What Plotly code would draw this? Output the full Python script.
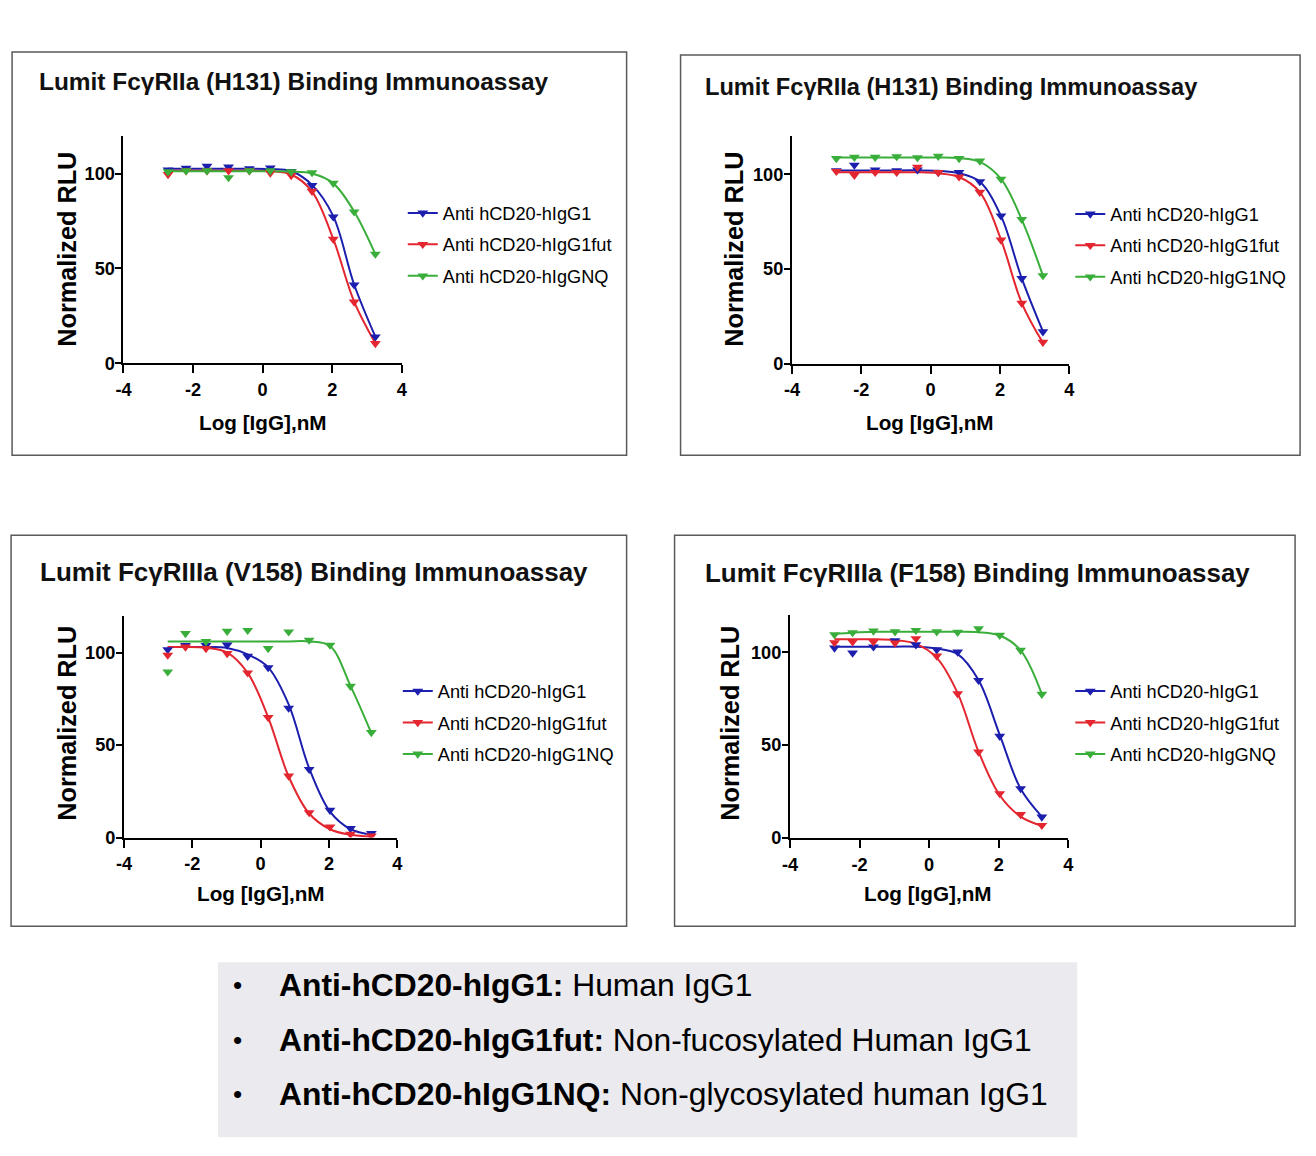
import plotly.graph_objects as go

# ---------------- data ----------------
log_igg = [-2.72, -2.2, -1.6, -0.98, -0.38, 0.22, 0.82, 1.42, 2.03, 2.63, 3.24]

series_names_a = ["Anti hCD20-hIgG1", "Anti hCD20-hIgG1fut", "Anti hCD20-hIgGNQ"]
series_names_b = ["Anti hCD20-hIgG1", "Anti hCD20-hIgG1fut", "Anti hCD20-hIgG1NQ"]

panel_titles = [
    "Lumit FcγRIIa (H131) Binding Immunoassay",
    "Lumit FcγRIIa (H131) Binding Immunoassay",
    "Lumit FcγRIIIa (V158) Binding Immunoassay",
    "Lumit FcγRIIIa (F158) Binding Immunoassay",
]

# Panel 1 : FcγRIIa (H131)
p1_igg1_obs = [101.9, 102.8, 103.9, 103.5, 102.6, 103.0, 101.1, 93.8, 77.2, 41.3, 13.9]
p1_fut_obs = [99.5, 101.5, 101.5, 101.5, 101.5, 100.3, 99.0, 90.7, 65.4, 32.3, 10.4]
p1_nq_obs = [101.0, 101.5, 101.5, 97.9, 101.5, 101.5, 101.0, 100.5, 94.9, 79.8, 57.5]
p1_igg1_fit = [102.5, 102.5, 102.5, 102.5, 102.5, 102.3, 101.2, 94.0, 77.5, 41.5, 14.0]
p1_fut_fit = [101.5, 101.5, 101.5, 101.5, 101.5, 101.2, 99.5, 90.5, 65.5, 32.5, 10.5]
p1_nq_fit = [101.2, 101.2, 101.2, 101.2, 101.2, 101.2, 101.0, 100.0, 94.8, 80.0, 57.5]

# Panel 2 : FcγRIIa (H131)
p2_igg1_obs = [101.9, 104.8, 102.3, 101.9, 102.3, 101.0, 101.0, 96.1, 78.0, 45.0, 16.9]
p2_fut_obs = [101.5, 99.5, 101.0, 101.0, 103.7, 100.9, 98.6, 90.5, 65.3, 31.9, 11.3]
p2_nq_obs = [108.3, 109.0, 109.0, 109.3, 108.8, 109.5, 108.3, 107.0, 97.4, 76.2, 46.5]
p2_igg1_fit = [102.0, 102.0, 102.0, 102.0, 102.0, 101.8, 100.5, 96.0, 78.0, 45.0, 17.0]
p2_fut_fit = [101.0, 101.0, 101.0, 101.0, 101.0, 100.5, 98.5, 90.5, 65.5, 32.0, 11.0]
p2_nq_fit = [108.8, 108.8, 108.8, 108.8, 108.8, 108.8, 108.5, 106.5, 97.5, 76.0, 46.5]

# Panel 3 : FcγRIIIa (V158)
p3_igg1_obs = [101.6, 103.8, 103.8, 104.1, 98.0, 91.9, 70.0, 36.9, 14.8, 4.9, 2.2]
p3_fut_obs = [98.6, 103.0, 102.2, 99.5, 89.0, 64.9, 33.3, 13.5, 5.8, 1.8, 0.9]
p3_nq_obs = [89.6, 110.3, 106.0, 111.5, 112.0, 102.2, 111.2, 106.7, 104.0, 81.8, 56.8]
p3_igg1_fit = [103.0, 103.0, 103.0, 102.5, 99.0, 92.0, 72.0, 37.5, 14.0, 4.5, 1.5]
p3_fut_fit = [103.0, 103.0, 102.5, 100.0, 89.0, 65.0, 33.0, 13.0, 4.5, 1.5, 0.5]
p3_nq_fit = [106.0, 106.0, 106.0, 106.0, 106.0, 106.0, 106.0, 106.0, 103.5, 82.0, 56.5]

# Panel 4 : FcγRIIIa (F158)
p4_igg1_obs = [102.3, 99.6, 102.9, 106.2, 104.1, 101.4, 100.2, 84.9, 54.8, 26.6, 11.3]
p4_fut_obs = [105.2, 105.6, 105.6, 105.0, 107.4, 98.0, 77.7, 46.3, 23.9, 12.7, 6.8]
p4_nq_obs = [109.5, 110.6, 111.5, 111.1, 111.8, 111.1, 110.8, 112.7, 109.2, 101.1, 77.4]
p4_igg1_fit = [103.0, 103.0, 103.0, 103.0, 103.0, 102.0, 99.0, 85.0, 55.5, 26.5, 11.5]
p4_fut_fit = [107.0, 107.0, 107.0, 106.5, 104.5, 97.0, 78.0, 46.5, 23.0, 11.5, 6.5]
p4_nq_fit = [109.8, 110.5, 111.0, 111.0, 111.0, 111.0, 111.0, 110.8, 109.0, 101.0, 77.5]

x_tick_vals = [-4, -2, 0, 2, 4]
x_tick_text = ["-4", "-2", "0", "2", "4"]
y_tick_vals = [0, 50, 100]
y_tick_text = ["0", "50", "100"]

x_title = "Log [IgG],nM"
y_title = "Normalized RLU"

notes_bold = ["Anti-hCD20-hIgG1:", "Anti-hCD20-hIgG1fut:", "Anti-hCD20-hIgG1NQ:"]
notes_text = ["Human IgG1", "Non-fucosylated Human IgG1", "Non-glycosylated human IgG1"]

# ---------------- layout helpers ----------------
PAGE_MARGIN = 8           # default body margin of the html page
W, H = 1316 - 2 * PAGE_MARGIN, 1156 - 2 * PAGE_MARGIN
FONT = "Liberation Sans, Arial, sans-serif"
COLORS = ["#1c1fae", "#e3262f", "#3aae3a"]
SX, SY, OX = 0.99, 0.991, 8.0   # observed mapping page -> photo
FS = 1.01                        # font compensation for that mapping


def fx(px):
    page = (px - OX) / SX
    return (page - PAGE_MARGIN) / W


def fy(py):
    page = py / SY
    return 1 - (page - PAGE_MARGIN) / H


# plot areas in reference pixels: (left x, right x, y at value 0, y at value 120)
plot_px = [
    (123.5, 402.0, 363.0, 135.5),
    (792.5, 1070.0, 363.5, 136.2),
    (124.0, 397.5, 837.3, 615.3),
    (790.5, 1069.0, 837.7, 614.9),
]
panel_boxes = [
    (12, 52, 627, 455),
    (681, 55, 1301, 455),
    (11, 535, 627, 926),
    (675, 535, 1296, 926),
]
title_pos = [(36.5, 81, 24.2), (703, 87, 23.4), (38, 572, 25.75), (703, 573, 25.7)]
ytitle_pos = [(67.5, 249), (735, 249), (67.5, 723), (731, 723)]
xtitle_pos = [(263, 422), (931, 422), (261, 893), (929, 893)]
legend_pos = [(403, 194.5), (1071, 195.5), (398, 672.5), (1071, 672.5)]

panels = [
    (series_names_a, [p1_igg1_obs, p1_fut_obs, p1_nq_obs], [p1_igg1_fit, p1_fut_fit, p1_nq_fit]),
    (series_names_b, [p2_igg1_obs, p2_fut_obs, p2_nq_obs], [p2_igg1_fit, p2_fut_fit, p2_nq_fit]),
    (series_names_b, [p3_igg1_obs, p3_fut_obs, p3_nq_obs], [p3_igg1_fit, p3_fut_fit, p3_nq_fit]),
    (series_names_a, [p4_igg1_obs, p4_fut_obs, p4_nq_obs], [p4_igg1_fit, p4_fut_fit, p4_nq_fit]),
]

fig = go.Figure()
layout = dict(
    width=W, height=H, autosize=False,
    margin=dict(l=0, r=0, t=0, b=0, pad=0),
    paper_bgcolor="white", plot_bgcolor="white",
    font=dict(family=FONT, color="black"),
    shapes=[], annotations=[],
)

for i, (names, obs, fits) in enumerate(panels):
    k = i + 1
    xs = "x" if k == 1 else f"x{k}"
    ys = "y" if k == 1 else f"y{k}"
    leg = "legend" if k == 1 else f"legend{k}"
    for j in range(3):
        fig.add_trace(go.Scatter(
            x=log_igg, y=fits[j], mode="lines", line=dict(color=COLORS[j], width=2, shape="spline"),
            xaxis=xs, yaxis=ys, showlegend=False, hoverinfo="skip"))
    for j in range(3):
        fig.add_trace(go.Scatter(
            x=log_igg, y=obs[j], mode="markers",
            marker=dict(symbol="triangle-down", size=9.5, color=COLORS[j]),
            xaxis=xs, yaxis=ys, showlegend=False, name=names[j]))
    for j in range(3):
        fig.add_trace(go.Scatter(
            x=[None], y=[None], mode="lines+markers", name=names[j],
            line=dict(color=COLORS[j], width=2),
            marker=dict(symbol="triangle-down", size=9.5, color=COLORS[j]),
            xaxis=xs, yaxis=ys, legend=leg, legendgroup=f"p{k}s{j}", showlegend=True))

    left, right, y0, y120 = plot_px[i]
    common = dict(showline=True, linecolor="black", linewidth=2, ticks="outside",
                  tickwidth=2, tickcolor="black", showgrid=False, zeroline=False,
                  tickfont=dict(family=FONT, size=18 * FS, color="black", weight="bold"))
    layout["xaxis" if k == 1 else f"xaxis{k}"] = dict(
        domain=[fx(left), fx(right)], range=[-4, 4], anchor=ys, ticklen=8,
        ticklabelstandoff=1,
        tickmode="array", tickvals=x_tick_vals, ticktext=x_tick_text, **common)
    layout["yaxis" if k == 1 else f"yaxis{k}"] = dict(
        domain=[fy(y0), fy(y120)], range=[0, 120], anchor=xs, ticklen=6,
        ticklabelstandoff=-3,
        tickmode="array", tickvals=y_tick_vals, ticktext=y_tick_text, **common)

    lx, ly = legend_pos[i]
    layout[leg] = dict(x=fx(lx), y=fy(ly), xanchor="left", yanchor="top",
                       bgcolor="rgba(0,0,0,0)", borderwidth=0, traceorder="grouped",
                       tracegroupgap=4.8, font=dict(family=FONT, size=18 * FS, color="black"))

    bx0, by0, bx1, by1 = panel_boxes[i]
    layout["shapes"].append(dict(type="rect", xref="paper", yref="paper",
                                 x0=fx(bx0), x1=fx(bx1), y0=fy(by1), y1=fy(by0),
                                 line=dict(color="#5a5a5a", width=1.5), layer="below"))
    tx, ty, ts = title_pos[i]
    layout["annotations"].append(dict(text=panel_titles[i], x=fx(tx), y=fy(ty), xref="paper", yref="paper",
                                      xanchor="left", yanchor="middle", showarrow=False,
                                      font=dict(family=FONT, size=ts * FS, color="#111111", weight="bold")))
    ax_, ay_ = ytitle_pos[i]
    layout["annotations"].append(dict(text=y_title, x=fx(ax_), y=fy(ay_), xref="paper", yref="paper",
                                      xanchor="center", yanchor="middle", showarrow=False, textangle=-90,
                                      font=dict(family=FONT, size=25 * FS, color="black", weight="bold")))
    ax_, ay_ = xtitle_pos[i]
    layout["annotations"].append(dict(text=x_title, x=fx(ax_), y=fy(ay_), xref="paper", yref="paper",
                                      xanchor="center", yanchor="middle", showarrow=False,
                                      font=dict(family=FONT, size=20.5 * FS, color="black", weight="bold")))

# bottom note box
layout["shapes"].append(dict(type="rect", xref="paper", yref="paper",
                             x0=fx(218), x1=fx(1078), y0=fy(1137), y1=fy(962),
                             line=dict(width=0), fillcolor="#ebeaee", layer="below"))
note_y = [985, 1040, 1094]
for b, t, yy in zip(notes_bold, notes_text, note_y):
    layout["annotations"].append(dict(text="•", x=fx(238), y=fy(yy), xref="paper", yref="paper",
                                      xanchor="center", yanchor="middle", showarrow=False,
                                      font=dict(family=FONT, size=26 * FS, color="black")))
    layout["annotations"].append(dict(text=f"<b>{b}</b> {t}", x=fx(277), y=fy(yy), xref="paper", yref="paper",
                                      xanchor="left", yanchor="middle", showarrow=False,
                                      font=dict(family=FONT, size=31.5 * FS, color="black")))

fig.update_layout(**layout)
fig.write_html("out.html")
